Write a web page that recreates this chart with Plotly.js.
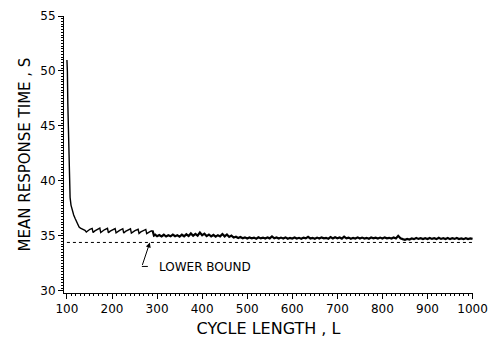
<!DOCTYPE html>
<html>
<head>
<meta charset="utf-8">
<script src="https://cdn.plot.ly/plotly-3.0.1.min.js"></script>
<style>html,body{margin:0;padding:0;background:#fff;}#chart{width:489px;height:341px;}</style>
</head>
<body>
<div id="chart"></div>
<script>
// Cycle length L (x) and mean response time S (y)
const cycleLength = [
  100,101,102,103,104,105,106,107,109,112,115,118,121,124,127,130,135,140,
  143,147,151,156,158,162,166,173,175,179,183,190,192,196,200,207,209,213,217,224,226,230,234,241,243,247,251,258,260,264,268,275,277,281,286,290,
  293,296,300,305,310,315,320,325,330,335,340,345,350,355,360,365,370,375,380,385,390,395,400,405,410,415,420,425,430,435,440,445,450,455,460,
  465,470,475,480,485,490,495,500,505,510,515,520,525,530,535,540,545,550,555,560,565,570,575,580,585,590,595,600,
  605,610,615,620,625,630,635,640,645,650,655,660,665,670,675,680,685,690,695,700,705,710,715,720,725,730,735,740,745,750,
  755,760,765,770,775,780,785,790,795,800,805,810,815,820,825,830,835,840,845,850,855,860,865,870,875,880,885,890,895,900,
  905,910,915,920,925,930,935,940,945,950,955,960,965,970,975,980,985,990,995,1000
];
const meanResponse = [
  51.0,50.0,47.0,44.5,42.0,40.5,39.3,38.5,37.8,37.2,36.9,36.6,36.3,36.1,35.8,35.7,35.6,35.5,
  35.35,35.5,35.6,35.68,35.3,35.45,35.55,35.7,35.3,35.45,35.55,35.68,35.28,35.43,35.52,35.66,35.27,35.42,35.5,35.65,35.25,35.4,35.5,35.64,35.25,35.38,35.47,35.6,35.22,35.36,35.45,35.58,35.2,35.32,35.42,35.48,
  35.02,35.1,34.96,35.08,34.95,35.1,34.94,35.06,34.96,35.12,34.97,35.05,34.93,35.1,34.96,35.14,34.98,35.22,35.0,35.18,35.02,35.3,35.05,35.2,34.98,35.12,34.95,35.08,34.92,35.06,34.95,35.16,34.95,35.12,34.9,35.02,
  34.85,34.92,34.8,34.9,34.78,34.86,34.76,34.85,34.78,34.84,34.74,34.87,34.77,34.84,34.75,34.86,34.77,34.94,34.78,34.85,34.75,34.84,34.76,34.86,34.74,34.82,34.76,34.85,
  34.75,34.82,34.74,34.84,34.77,34.9,34.76,34.82,34.74,34.84,34.75,34.86,34.77,34.82,34.74,34.88,34.76,34.87,34.78,34.85,34.75,34.92,34.77,34.84,34.74,34.82,34.76,34.86,34.75,34.84,
  34.76,34.82,34.74,34.85,34.77,34.83,34.75,34.84,34.76,34.86,34.77,34.82,34.75,34.85,34.76,35.0,34.78,34.7,34.64,34.72,34.67,34.76,34.7,34.8,34.72,34.78,34.7,34.78,34.71,34.81,
  34.72,34.78,34.7,34.82,34.72,34.79,34.71,34.8,34.7,34.78,34.72,34.81,34.71,34.77,34.7,34.79,34.71,34.77,34.72,34.74
];
const boundX = [100, 1000];
const lowerBound = [34.4, 34.4];
const xTicks = [100,200,300,400,500,600,700,800,900,1000];
const yTicks = [30,35,40,45,50,55];

// the curve is drawn thin up to the end of the saw-tooth, then heavier (dense noisy trace)
const split = cycleLength.indexOf(290);

const FONT = 'DejaVu Sans, Liberation Sans, sans-serif';

const traces = [
  {x: cycleLength.slice(0, split + 1), y: meanResponse.slice(0, split + 1), type: 'scatter', mode: 'lines',
   line: {color: '#000', width: 1.4}, hoverinfo: 'skip', showlegend: false},
  {x: cycleLength.slice(split), y: meanResponse.slice(split), type: 'scatter', mode: 'lines',
   line: {color: '#000', width: 2.2}, hoverinfo: 'skip', showlegend: false},
  {x: boundX, y: lowerBound, type: 'scatter', mode: 'lines',
   line: {color: '#000', width: 1, dash: 'dot'}, hoverinfo: 'skip', showlegend: false}
];

const layout = {
  width: 489, height: 341,
  margin: {l: 64, r: 16, t: 16, b: 48},
  paper_bgcolor: '#fff', plot_bgcolor: '#fff',
  font: {family: FONT, color: '#000', size: 12},
  showlegend: false,
  xaxis: {
    range: [93.5, 1001], tickvals: xTicks, ticktext: xTicks.map(String),
    showgrid: false, zeroline: false, showline: true, linecolor: '#000', linewidth: 1,
    ticks: 'outside', ticklen: 5, tickwidth: 1, tickcolor: '#000',
    minor: {dtick: 10, tick0: 0, ticks: 'outside', ticklen: 2, tickcolor: '#000', showgrid: false},
    tickfont: {family: FONT, size: 12, color: '#000'},
    title: {text: 'CYCLE LENGTH , L', font: {family: FONT, size: 16, color: '#000'}, standoff: 7}
  },
  yaxis: {
    range: [29.8, 55], tickvals: yTicks, ticktext: yTicks.map(String),
    showgrid: false, zeroline: false, showline: true, linecolor: '#000', linewidth: 1,
    ticks: 'outside', ticklen: 5, tickwidth: 1, tickcolor: '#000',
    minor: {dtick: 0.25, tick0: 0, ticks: 'outside', ticklen: 2, tickcolor: '#000', showgrid: false},
    tickfont: {family: FONT, size: 12, color: '#000'},
    title: {text: 'MEAN RESPONSE TIME , S', font: {family: FONT, size: 15, color: '#000'}, standoff: 6}
  },
  annotations: [
    {x: 284, y: 34.4, xref: 'x', yref: 'y', text: '', showarrow: true,
     ax: -8, ay: 24, arrowhead: 2, arrowsize: 1, arrowwidth: 1, arrowcolor: '#000', standoff: 0},
    {x: 300, y: 32.2, xref: 'x', yref: 'y', text: 'LOWER BOUND', showarrow: false,
     xanchor: 'left', yanchor: 'middle', font: {family: FONT, size: 12, color: '#000'}}
  ],
  shapes: [
    {type: 'line', xref: 'x', yref: 'y', xsizemode: 'pixel', ysizemode: 'pixel',
     xanchor: 284, yanchor: 34.4, x0: -8, x1: -2, y0: -24, y1: -24,
     line: {color: '#000', width: 1}}
  ]
};

Plotly.newPlot('chart', traces, layout, {displayModeBar: false, staticPlot: true});
</script>
</body>
</html>
